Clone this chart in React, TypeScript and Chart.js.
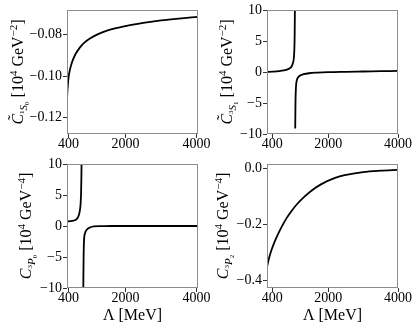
import React, { useEffect, useRef } from "react";
import { Chart, registerables } from "chart.js";

Chart.register(...registerables);

// ---------------- data ----------------
const X_TICKS = [400, 2000, 4000];
const X_TICK_LABELS = ["400", "2000", "4000"];

// 1S0 panel
const S0_X = [355, 365, 380, 400, 430, 470, 520, 600, 700, 800, 900, 1000, 1200, 1500, 2000, 2500, 3000, 3500, 4040];
const S0_Y = [-0.1115, -0.1075, -0.104, -0.1005, -0.0975, -0.0948, -0.0922, -0.0893, -0.0867, -0.0847, -0.0832, -0.082, -0.0801, -0.0781, -0.076, -0.0745, -0.0733, -0.0724, -0.0716];
const S0_TICKS = [-0.12, -0.1, -0.08];
const S0_TICK_LABELS = ["\u22120.12", "\u22120.10", "\u22120.08"];

// 3S1 panel (null = break at the pole)
const S1_X = [250, 400, 600, 800, 900, 950, 990, 1015, 1032, 1042, 1050, 1054, 1058, 1064, 1072, 1085, 1110, 1150, 1200, 1300, 1450, 1700, 2000, 2500, 3000, 3500, 4000];
const S1_Y = [0.0, 0.05, 0.15, 0.35, 0.6, 0.85, 1.4, 2.1, 3.5, 6, 11, null, -9.1, -5.5, -3.3, -2.0, -1.2, -0.8, -0.55, -0.35, -0.2, -0.1, -0.03, 0.03, 0.08, 0.13, 0.18];
const S1_TICKS = [-10, -5, 0, 5, 10];
const S1_TICK_LABELS = ["\u221210", "\u22125", "0", "5", "10"];

// 3P0 panel
const P0_X = [355, 450, 536, 600, 650, 677, 700, 722, 740, 752, 760, 766, 790, 812, 822, 835, 860, 918, 1000, 1105, 1300, 1600, 2000, 3000, 4040];
const P0_Y = [0.75, 0.78, 0.85, 1.0, 1.3, 1.6, 2.0, 2.7, 3.8, 5.5, 8, 11, null, -11, -5, -2.2, -1.2, -0.56, -0.25, -0.05, -0.02, 0, 0, 0, 0];
const P0_TICKS = [-10, -5, 0, 5, 10];
const P0_TICK_LABELS = ["\u221210", "\u22125", "0", "5", "10"];

// 3P2 panel
const P2_X = [250, 300, 376, 450, 519, 600, 708, 820, 948, 1100, 1330, 1550, 1807, 2200, 2475, 3000, 3500, 4000];
const P2_Y = [-0.352, -0.325, -0.293, -0.268, -0.248, -0.226, -0.2, -0.176, -0.153, -0.129, -0.1, -0.077, -0.056, -0.034, -0.024, -0.013, -0.008, -0.005];
const P2_TICKS = [-0.4, -0.2, 0.0];
const P2_TICK_LABELS = ["\u22120.4", "\u22120.2", "0.0"];

// ---------------- rich text helpers ----------------
type Seg = { t: string; size: number; dy: number; italic?: boolean; tilde?: boolean };
const FAMILY = '"Liberation Serif", "DejaVu Serif", serif';

function fontOf(s: Seg) {
  return `${s.italic ? "italic " : ""}${s.size}px ${FAMILY}`;
}

function drawRich(ctx: CanvasRenderingContext2D, segs: Seg[], cx: number, cy: number, rotate: boolean) {
  ctx.save();
  ctx.translate(cx, cy);
  if (rotate) ctx.rotate(-Math.PI / 2);
  ctx.textBaseline = "alphabetic";
  ctx.textAlign = "left";
  ctx.fillStyle = "#000";
  const widths = segs.map((s) => {
    ctx.font = fontOf(s);
    return ctx.measureText(s.t).width;
  });
  const total = widths.reduce((a, b) => a + b, 0);
  let x = -total / 2;
  segs.forEach((s, i) => {
    ctx.font = fontOf(s);
    ctx.fillText(s.t, x, -s.dy);
    if (s.tilde) {
      ctx.font = `${s.size}px ${FAMILY}`;
      const tw = ctx.measureText("\u02DC").width;
      ctx.fillText("\u02DC", x + widths[i] / 2 - tw / 2 + 1.5, -s.dy - 4);
    }
    x += widths[i];
  });
  ctx.restore();
}

function yLabel(tilde: boolean, sup: string, letter: string, sub: string, power: string): Seg[] {
  return [
    { t: "C", size: 16, dy: 0, italic: true, tilde },
    { t: sup, size: 7, dy: -0.5 },
    { t: letter, size: 11, dy: -3.5, italic: true },
    { t: sub, size: 7, dy: -5.5 },
    { t: " [10", size: 16, dy: 0 },
    { t: "4", size: 11, dy: 6 },
    { t: " GeV", size: 16, dy: 0 },
    { t: "\u2212" + power, size: 11, dy: 6 },
    { t: "]", size: 16, dy: 0 },
  ];
}

const X_TITLE: Seg[] = [{ t: "\u039B [MeV]", size: 16, dy: 0 }];

// ---------------- panels ----------------
type Panel = {
  box: { l: number; t: number; r: number; b: number };
  xMin: number; xMax: number; yMin: number; yMax: number;
  xs: number[]; ys: (number | null)[];
  yTicks: number[]; yTickLabels: string[];
  label: Seg[]; labelX: number;
  xTitle: boolean;
};

const PANELS: Panel[] = [
  {
    box: { l: 67, t: 10, r: 198, b: 134 }, xMin: 355, xMax: 4040, yMin: -0.1278, yMax: -0.0683,
    xs: S0_X, ys: S0_Y, yTicks: S0_TICKS, yTickLabels: S0_TICK_LABELS,
    label: yLabel(true, "1", "S", "0", "2"), labelX: 23, xTitle: false,
  },
  {
    box: { l: 267, t: 10, r: 398, b: 134 }, xMin: 250, xMax: 4000, yMin: -10, yMax: 10,
    xs: S1_X, ys: S1_Y, yTicks: S1_TICKS, yTickLabels: S1_TICK_LABELS,
    label: yLabel(true, "3", "S", "1", "2"), labelX: 232, xTitle: false,
  },
  {
    box: { l: 67, t: 164, r: 198, b: 288 }, xMin: 355, xMax: 4040, yMin: -10, yMax: 10,
    xs: P0_X, ys: P0_Y, yTicks: P0_TICKS, yTickLabels: P0_TICK_LABELS,
    label: yLabel(false, "3", "P", "0", "4"), labelX: 31, xTitle: true,
  },
  {
    box: { l: 267, t: 164, r: 398, b: 288 }, xMin: 250, xMax: 4000, yMin: -0.428, yMax: 0.016,
    xs: P2_X, ys: P2_Y, yTicks: P2_TICKS, yTickLabels: P2_TICK_LABELS,
    label: yLabel(false, "3", "P", "2", "4"), labelX: 228, xTitle: true,
  },
];

const W = 415;
const H = 329;
const YW = 60;
const XH = 30;

function PanelChart({ p }: { p: Panel }) {
  const ref = useRef<HTMLCanvasElement | null>(null);
  useEffect(() => {
    if (!ref.current) return;
    const data = p.xs.map((x, i) => ({ x, y: p.ys[i] }));
    const decor = {
      id: "decor",
      afterDraw(chart: any) {
        const ctx = chart.ctx as CanvasRenderingContext2D;
        const a = chart.chartArea;
        ctx.save();
        ctx.strokeStyle = "#8c8c8c";
        ctx.lineWidth = 1;
        ctx.strokeRect(a.left + 0.5, a.top + 0.5, a.right - a.left - 1, a.bottom - a.top - 1);
        ctx.restore();
        drawRich(ctx, p.label, p.labelX, (a.top + a.bottom) / 2, true);
        if (p.xTitle) drawRich(ctx, X_TITLE, (a.left + a.right) / 2, 320, false);
      },
    };
    const tickFont = { family: FAMILY, size: 14, lineHeight: 1 };
    const chart = new Chart(ref.current, {
      type: "line",
      data: {
        datasets: [
          {
            data: data as any,
            borderColor: "#000",
            borderWidth: 1.8,
            pointRadius: 0,
            fill: false,
            spanGaps: false,
            cubicInterpolationMode: "monotone",
          },
        ],
      },
      options: {
        animation: false,
        responsive: false,
        devicePixelRatio: 1,
        events: [],
        layout: {
          padding: { left: p.box.l - YW, top: p.box.t, right: W - p.box.r, bottom: H - p.box.b - XH },
        },
        plugins: { legend: { display: false }, tooltip: { enabled: false } },
        scales: {
          x: {
            type: "linear",
            min: p.xMin,
            max: p.xMax,
            border: { display: false },
            grid: { drawOnChartArea: false, drawTicks: true, tickLength: 4, color: "#333" },
            ticks: {
              font: tickFont,
              color: "#000",
              padding: -1,
              maxRotation: 0,
              autoSkip: false,
              callback: (_v: any, i: number) => X_TICK_LABELS[i],
            },
            afterBuildTicks: (s: any) => {
              s.ticks = X_TICKS.map((v) => ({ value: v }));
            },
            afterFit: (s: any) => {
              s.height = XH;
              s.paddingLeft = 0;
              s.paddingRight = 0;
              s.paddingTop = 0;
              s.paddingBottom = 0;
            },
          },
          y: {
            type: "linear",
            min: p.yMin,
            max: p.yMax,
            border: { display: false },
            grid: { drawOnChartArea: false, drawTicks: true, tickLength: 4, color: "#333" },
            ticks: {
              font: tickFont,
              color: "#000",
              padding: 1,
              autoSkip: false,
              callback: (_v: any, i: number) => p.yTickLabels[i],
            },
            afterBuildTicks: (s: any) => {
              s.ticks = p.yTicks.map((v) => ({ value: v }));
            },
            afterFit: (s: any) => {
              s.width = YW;
              s.paddingLeft = 0;
              s.paddingRight = 0;
              s.paddingTop = 0;
              s.paddingBottom = 0;
            },
          },
        },
      },
      plugins: [decor],
    } as any);
    return () => chart.destroy();
  }, [p]);
  return (
    <canvas
      ref={ref}
      width={W}
      height={H}
      style={{ position: "absolute", left: 0, top: 0, width: W, height: H }}
    />
  );
}

export default function App() {
  return (
    <div style={{ position: "absolute", left: 0, top: 0, width: W, height: H, background: "#fff", overflow: "hidden" }}>
      {PANELS.map((p, i) => (
        <PanelChart key={i} p={p} />
      ))}
    </div>
  );
}
